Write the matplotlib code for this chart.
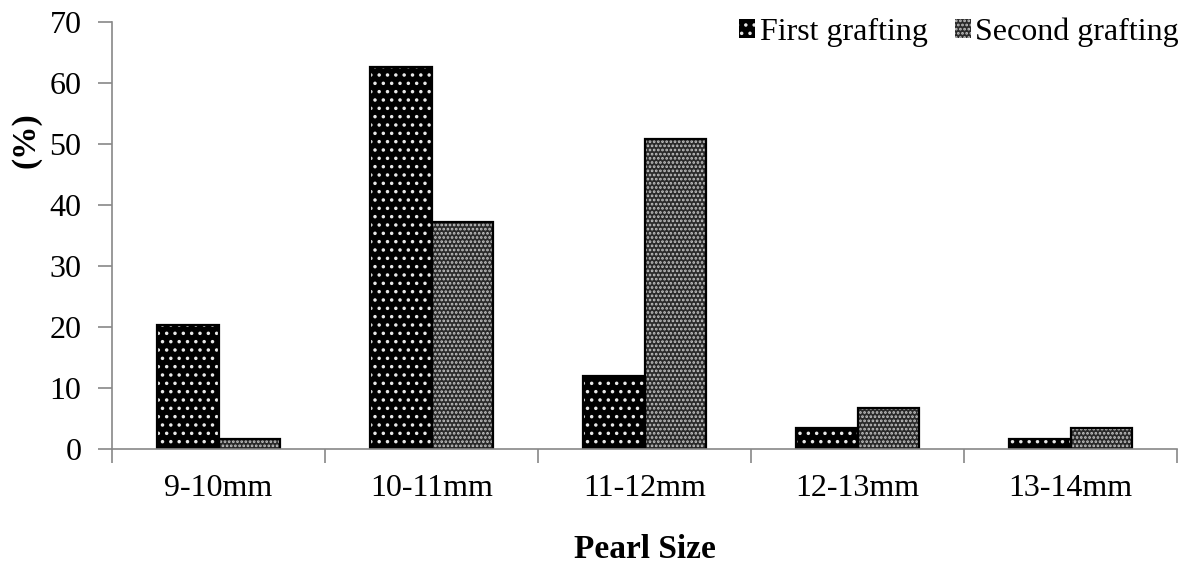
import numpy as np
import matplotlib.pyplot as plt
from matplotlib.patches import Patch

plt.rcParams['font.family'] = ['Liberation Serif', 'DejaVu Serif']
plt.rcParams['hatch.linewidth'] = 1.3

# Pearl size distribution (%)
sizes = ['9-10mm', '10-11mm', '11-12mm', '12-13mm', '13-14mm']
first = [20.3, 62.7, 11.9, 3.4, 1.7]
second = [1.7, 37.3, 50.8, 6.8, 3.4]

x = np.arange(len(sizes))
w = 0.29

fig = plt.figure(figsize=(11.97, 5.66), dpi=100)
ax = fig.add_axes([0.0936, 0.2067, 0.8897, 0.7543])

# filled bars with hatch dots, then black outline on top
ax.bar(x - w/2, first, w, color='black', edgecolor='#e8e8e8', hatch='..', linewidth=0)
ax.bar(x + w/2, second, w, color='#2a2a2a', edgecolor='#c4c4c4', hatch='....', linewidth=0)
ax.bar(x - w/2, first, w, fill=False, edgecolor='black', linewidth=1.6)
ax.bar(x + w/2, second, w, fill=False, edgecolor='black', linewidth=1.6)

ax.set_xlim(-0.5, len(sizes) - 0.5)
ax.set_ylim(0, 70)
ax.set_yticks(range(0, 71, 10))
ax.set_xticks(x)
ax.set_xticklabels(sizes)
ax.set_xticks(np.arange(len(sizes) + 1) - 0.5, minor=True)
ax.tick_params(axis='x', which='major', length=0, pad=18, labelsize=23)
ax.tick_params(axis='x', which='minor', length=10, color='#888888', width=1.2)
ax.tick_params(axis='y', length=10, color='#888888', width=1.2, labelsize=23, pad=12)

for s in ['top', 'right']:
    ax.spines[s].set_visible(False)
for s in ['left', 'bottom']:
    ax.spines[s].set_color('#888888')
    ax.spines[s].set_linewidth(1.2)

ax.set_xlabel('Pearl Size', fontsize=24, fontweight='bold', labelpad=22)
ax.set_ylabel('(%)', fontsize=24, fontweight='bold')
ax.yaxis.set_label_coords(-0.066, 0.724)

handles = [
    Patch(facecolor='black', edgecolor='#e8e8e8', hatch='..', label='First grafting'),
    Patch(facecolor='#2a2a2a', edgecolor='#c4c4c4', hatch='....', label='Second grafting'),
]
leg = fig.legend(handles=handles, loc='upper right', bbox_to_anchor=(1.009, 1.02), ncol=2,
                 frameon=False, fontsize=23, handlelength=0.5, handleheight=0.5,
                 handletextpad=0.15, columnspacing=0.85)
for p in leg.get_patches():
    p.set_linewidth(0)

fig.savefig('out.png', dpi=100)
